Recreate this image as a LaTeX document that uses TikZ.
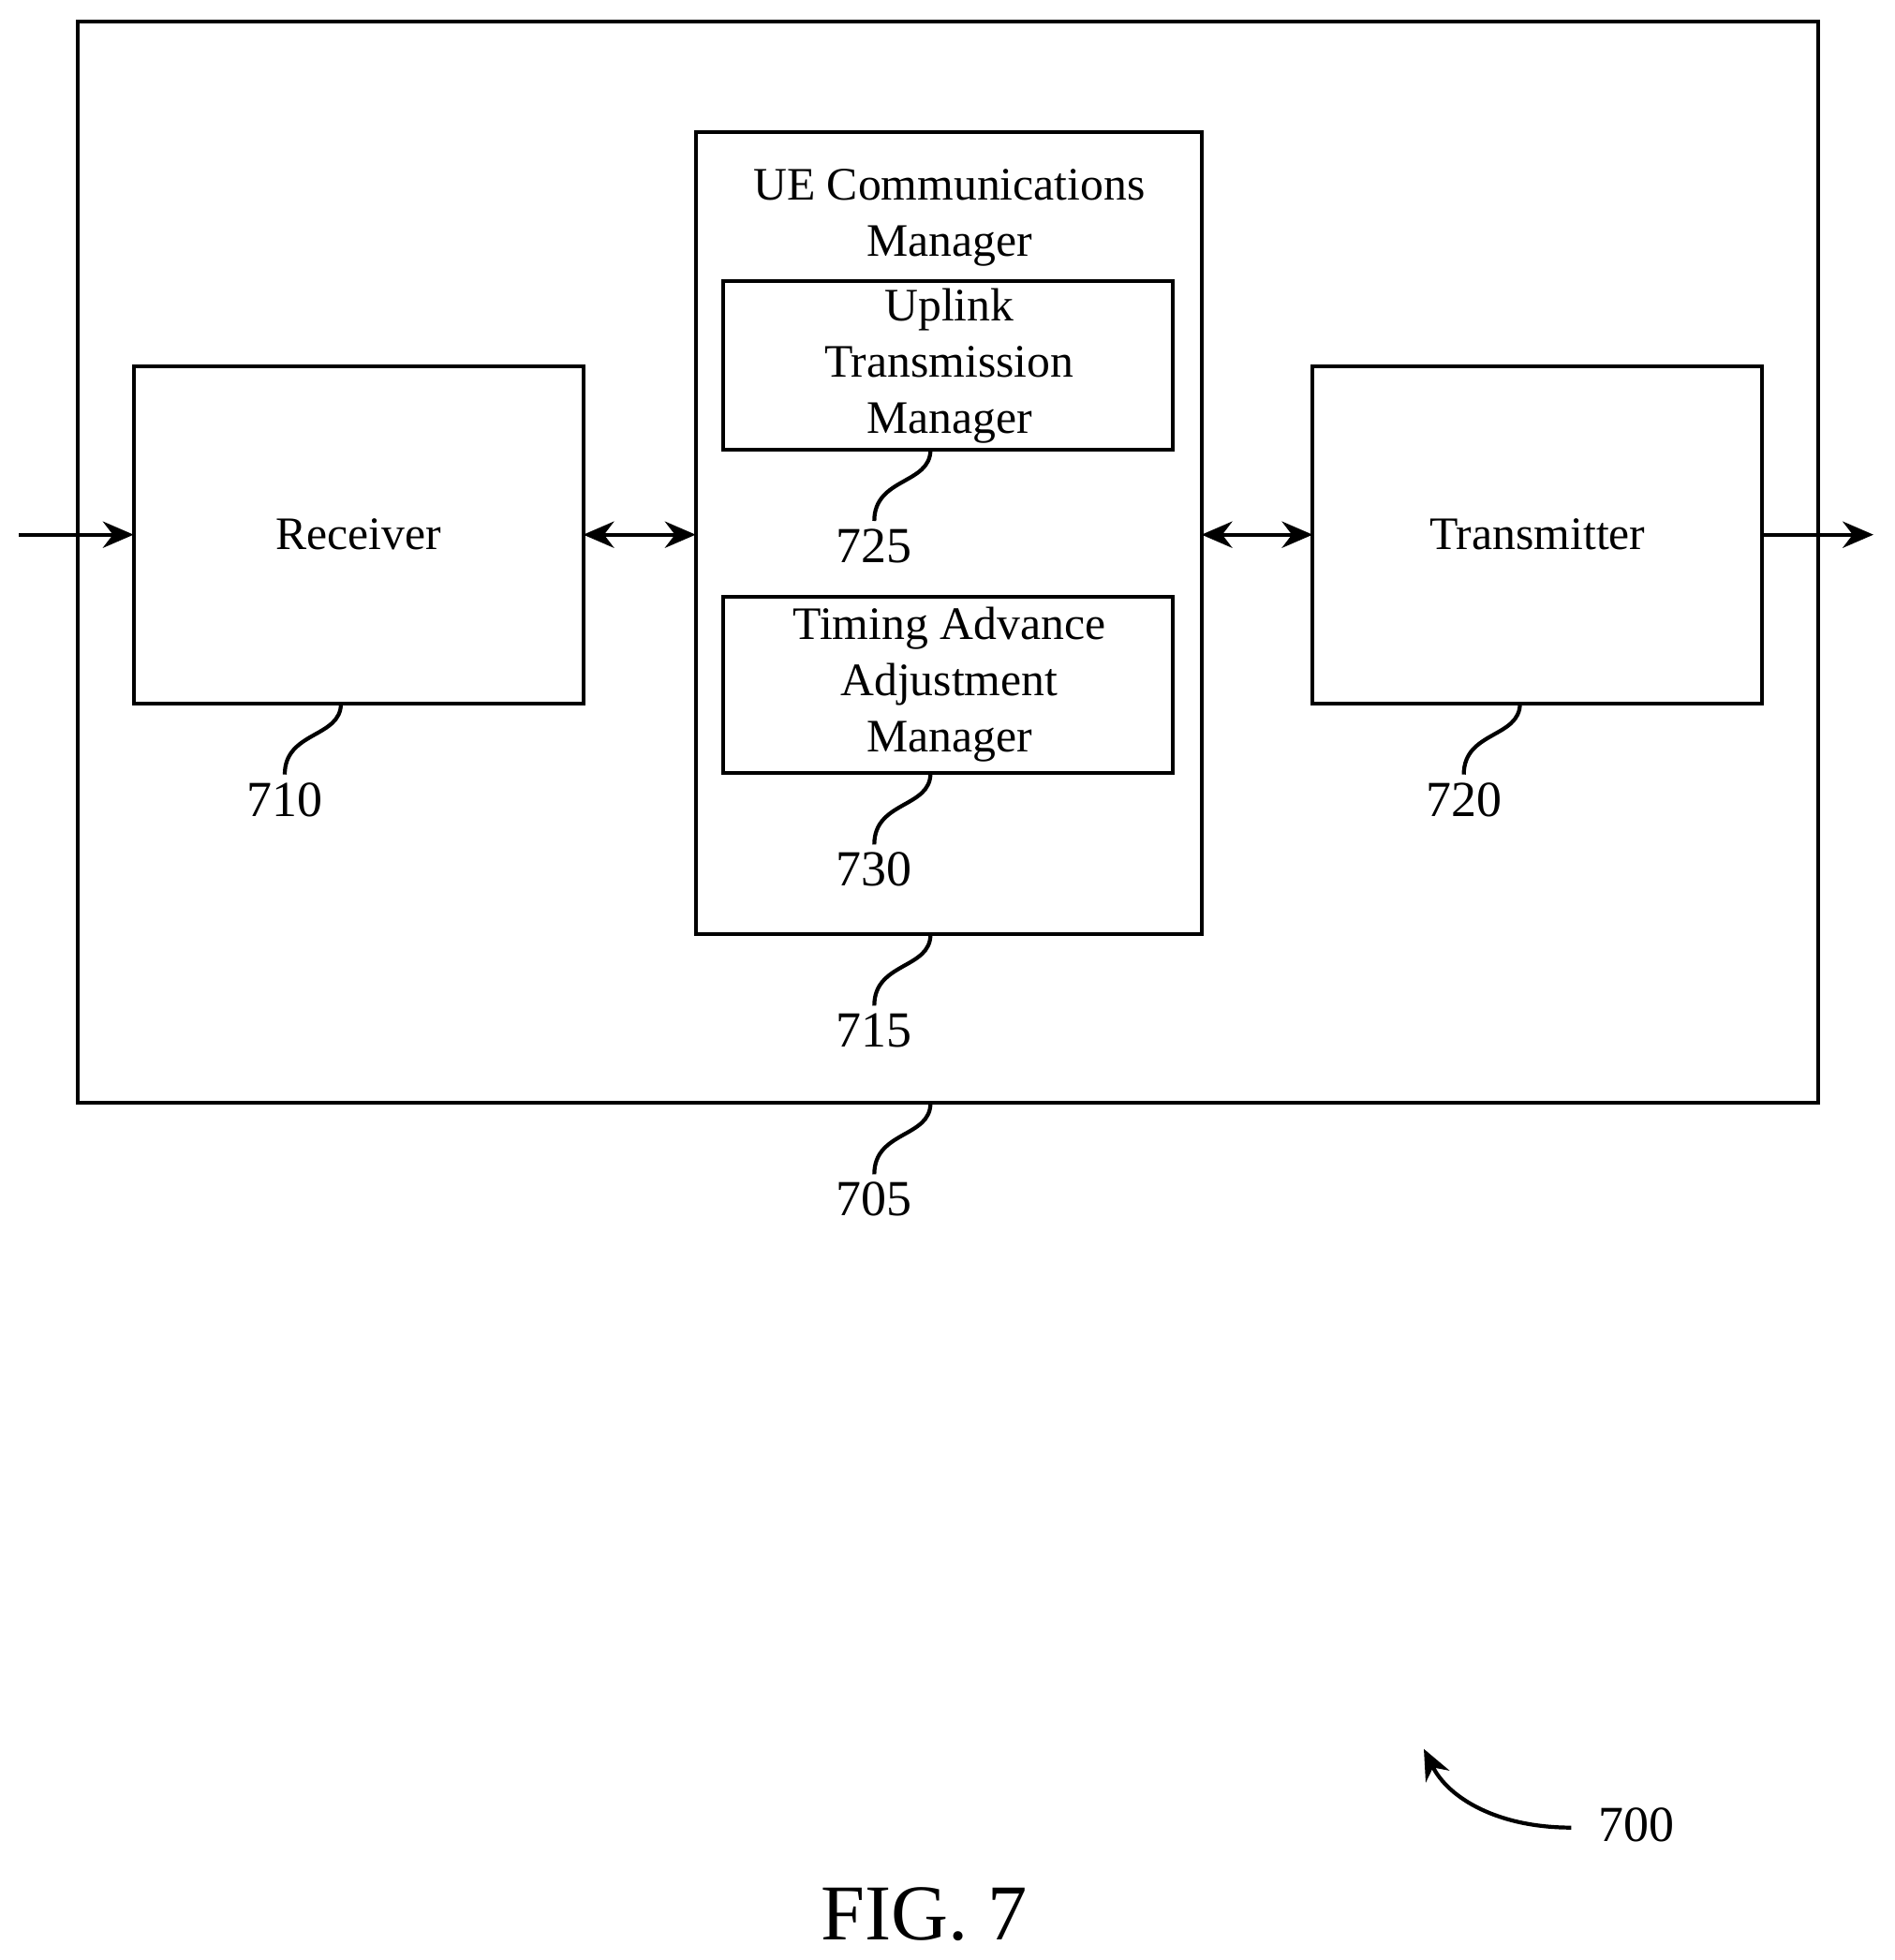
\documentclass[tikz,border=0pt]{standalone}
\usepackage{fontspec}
\setmainfont{Liberation Serif}
\usetikzlibrary{arrows.meta}
\begin{document}
\begin{tikzpicture}[x=0.01cm,y=-0.01cm,line width=0.9pt,
  box/.style={draw,inner sep=0},
  txt/.style={font=\fontsize{10.6}{12.8}\selectfont,align=center},
  arr/.style={-{Stealth[length=7pt,width=6pt]}},
  barr/.style={{Stealth[length=7pt,width=6pt]}-{Stealth[length=7pt,width=6pt]}}]
\useasboundingbox (0,0) rectangle (1517,1569);
\draw (62,17) rectangle (1456,883);
\draw (107,293) rectangle (467,563);
\draw (1051,293) rectangle (1411,563);
\draw (557,106) rectangle (962,748);
\draw (579,225) rectangle (939,360);
\draw (579,478) rectangle (939,619);
\coordinate (rxl) at (107,428); \coordinate (rxr) at (467,428);
\coordinate (cml) at (557,428); \coordinate (cmr) at (962,428);
\coordinate (txl) at (1051,428); \coordinate (txr) at (1411,428);
\coordinate (in) at (15,428); \coordinate (out) at (1500,428);
\node[txt] (rx) at (287,428) {Receiver};
\node[txt] (tx) at (1231,428) {Transmitter};
\node[txt] (cm) at (760,174) {UE Communications\\Manager};
\node[txt] (ul) at (760,293) {Uplink\\Transmission\\Manager};
\node[txt] (ta) at (760,548) {Timing Advance\\Adjustment\\Manager};
\draw[arr] (in) -- (rxl);
\draw[barr] (rxr) -- (cml);
\draw[barr] (cmr) -- (txl);
\draw[arr] (txr) -- (out);
\foreach \x/\y/\l in {273/563/710,745/360/725,745/619/730,745/748/715,745/883/705,1217/563/720}{
  \draw (\x,\y) .. controls (\x,\y+28) and (\x-45,\y+22) .. (\x-45,\y+57);
  \node[txt,font=\fontsize{11.5}{13}\selectfont] (n\l) at (\x-45,\y+77) {\l};
}
\node[txt,font=\fontsize{11.5}{13}\selectfont] (n700) at (1310,1461) {700};
\coordinate (a700) at (1258,1463);
\coordinate (b700) at (1140,1400);
\draw[arr] (a700) .. controls (1200,1463) and (1160,1440) .. (b700);
\node[font=\fontsize{18}{20}\selectfont] (fig) at (740,1532) {FIG. 7};
\end{tikzpicture}
\end{document}
